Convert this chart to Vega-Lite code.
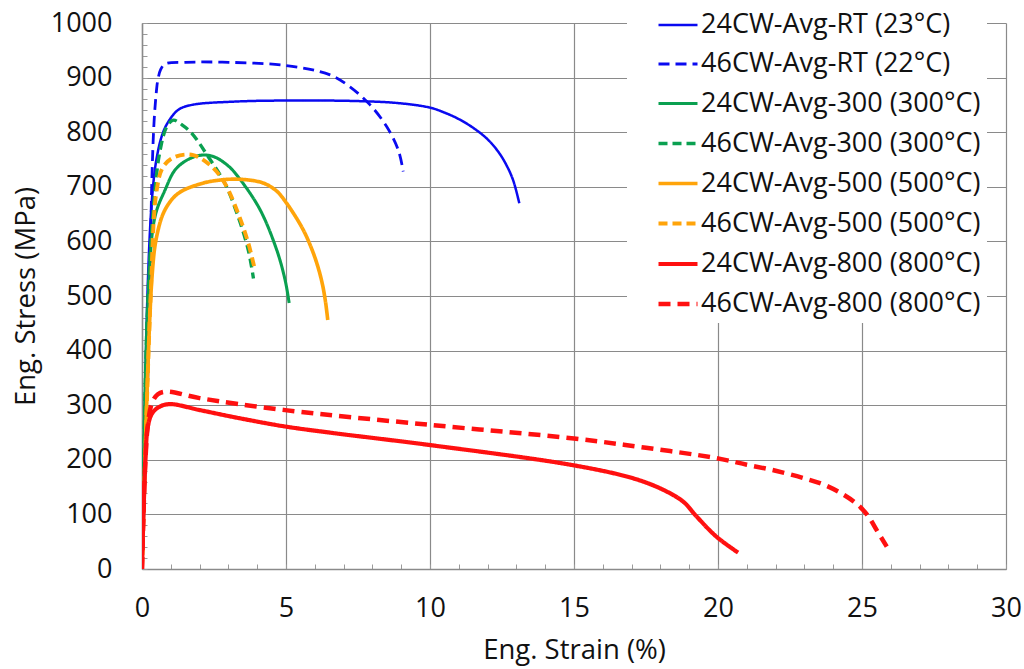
{
  "$schema": "https://vega.github.io/schema/vega-lite/v6.json",
  "autosize": "none",
  "width": 864,
  "height": 546,
  "padding": {"left": 142, "top": 23, "right": 18, "bottom": 100},
  "background": "white",
  "config": {"view": {"stroke": null}, "font": "Open Sans"},
  "data": {"values": [
    {"series": "24CW-Avg-RT (23°C)", "strain": 0, "stress": 0},
    {"series": "24CW-Avg-RT (23°C)", "strain": 0.2, "stress": 520},
    {"series": "24CW-Avg-RT (23°C)", "strain": 0.35, "stress": 680},
    {"series": "24CW-Avg-RT (23°C)", "strain": 0.5, "stress": 750},
    {"series": "24CW-Avg-RT (23°C)", "strain": 0.7, "stress": 795},
    {"series": "24CW-Avg-RT (23°C)", "strain": 0.9, "stress": 818},
    {"series": "24CW-Avg-RT (23°C)", "strain": 1.26, "stress": 841},
    {"series": "24CW-Avg-RT (23°C)", "strain": 1.73, "stress": 850},
    {"series": "24CW-Avg-RT (23°C)", "strain": 3.2, "stress": 856},
    {"series": "24CW-Avg-RT (23°C)", "strain": 5, "stress": 858},
    {"series": "24CW-Avg-RT (23°C)", "strain": 7.5, "stress": 857},
    {"series": "24CW-Avg-RT (23°C)", "strain": 8.96, "stress": 853},
    {"series": "24CW-Avg-RT (23°C)", "strain": 10, "stress": 845},
    {"series": "24CW-Avg-RT (23°C)", "strain": 10.5, "stress": 836},
    {"series": "24CW-Avg-RT (23°C)", "strain": 11, "stress": 824},
    {"series": "24CW-Avg-RT (23°C)", "strain": 11.5, "stress": 808},
    {"series": "24CW-Avg-RT (23°C)", "strain": 12, "stress": 787},
    {"series": "24CW-Avg-RT (23°C)", "strain": 12.4, "stress": 762},
    {"series": "24CW-Avg-RT (23°C)", "strain": 12.7, "stress": 735},
    {"series": "24CW-Avg-RT (23°C)", "strain": 12.9, "stress": 710},
    {"series": "24CW-Avg-RT (23°C)", "strain": 13.1, "stress": 670},
    {"series": "46CW-Avg-RT (22°C)", "strain": 0, "stress": 0},
    {"series": "46CW-Avg-RT (22°C)", "strain": 0.15, "stress": 250},
    {"series": "46CW-Avg-RT (22°C)", "strain": 0.28, "stress": 530},
    {"series": "46CW-Avg-RT (22°C)", "strain": 0.34, "stress": 707},
    {"series": "46CW-Avg-RT (22°C)", "strain": 0.42, "stress": 820},
    {"series": "46CW-Avg-RT (22°C)", "strain": 0.5, "stress": 875},
    {"series": "46CW-Avg-RT (22°C)", "strain": 0.55, "stress": 896},
    {"series": "46CW-Avg-RT (22°C)", "strain": 0.65, "stress": 915},
    {"series": "46CW-Avg-RT (22°C)", "strain": 0.8, "stress": 925},
    {"series": "46CW-Avg-RT (22°C)", "strain": 1.5, "stress": 928},
    {"series": "46CW-Avg-RT (22°C)", "strain": 3, "stress": 928},
    {"series": "46CW-Avg-RT (22°C)", "strain": 5, "stress": 922},
    {"series": "46CW-Avg-RT (22°C)", "strain": 6.53, "stress": 905},
    {"series": "46CW-Avg-RT (22°C)", "strain": 7.22, "stress": 883},
    {"series": "46CW-Avg-RT (22°C)", "strain": 7.92, "stress": 850},
    {"series": "46CW-Avg-RT (22°C)", "strain": 8.5, "stress": 810},
    {"series": "46CW-Avg-RT (22°C)", "strain": 8.9, "stress": 767},
    {"series": "46CW-Avg-RT (22°C)", "strain": 9.07, "stress": 728},
    {"series": "24CW-Avg-300 (300°C)", "strain": 0, "stress": 0},
    {"series": "24CW-Avg-300 (300°C)", "strain": 0.2, "stress": 480},
    {"series": "24CW-Avg-300 (300°C)", "strain": 0.45, "stress": 645},
    {"series": "24CW-Avg-300 (300°C)", "strain": 0.8, "stress": 694},
    {"series": "24CW-Avg-300 (300°C)", "strain": 1.15, "stress": 731},
    {"series": "24CW-Avg-300 (300°C)", "strain": 1.6, "stress": 750},
    {"series": "24CW-Avg-300 (300°C)", "strain": 2.07, "stress": 758},
    {"series": "24CW-Avg-300 (300°C)", "strain": 2.5, "stress": 755},
    {"series": "24CW-Avg-300 (300°C)", "strain": 3.0, "stress": 738},
    {"series": "24CW-Avg-300 (300°C)", "strain": 3.4, "stress": 714},
    {"series": "24CW-Avg-300 (300°C)", "strain": 4.1, "stress": 658},
    {"series": "24CW-Avg-300 (300°C)", "strain": 4.68, "stress": 584},
    {"series": "24CW-Avg-300 (300°C)", "strain": 4.97, "stress": 529},
    {"series": "24CW-Avg-300 (300°C)", "strain": 5.11, "stress": 487},
    {"series": "46CW-Avg-300 (300°C)", "strain": 0, "stress": 0},
    {"series": "46CW-Avg-300 (300°C)", "strain": 0.2, "stress": 490},
    {"series": "46CW-Avg-300 (300°C)", "strain": 0.45, "stress": 694},
    {"series": "46CW-Avg-300 (300°C)", "strain": 0.63, "stress": 767},
    {"series": "46CW-Avg-300 (300°C)", "strain": 0.86, "stress": 810},
    {"series": "46CW-Avg-300 (300°C)", "strain": 1.09, "stress": 822},
    {"series": "46CW-Avg-300 (300°C)", "strain": 1.4, "stress": 813},
    {"series": "46CW-Avg-300 (300°C)", "strain": 1.73, "stress": 798},
    {"series": "46CW-Avg-300 (300°C)", "strain": 2.3, "stress": 755},
    {"series": "46CW-Avg-300 (300°C)", "strain": 2.88, "stress": 706},
    {"series": "46CW-Avg-300 (300°C)", "strain": 3.34, "stress": 645},
    {"series": "46CW-Avg-300 (300°C)", "strain": 3.69, "stress": 584},
    {"series": "46CW-Avg-300 (300°C)", "strain": 3.87, "stress": 532},
    {"series": "24CW-Avg-500 (500°C)", "strain": 0, "stress": 0},
    {"series": "24CW-Avg-500 (500°C)", "strain": 0.34, "stress": 529},
    {"series": "24CW-Avg-500 (500°C)", "strain": 0.51, "stress": 609},
    {"series": "24CW-Avg-500 (500°C)", "strain": 0.8, "stress": 658},
    {"series": "24CW-Avg-500 (500°C)", "strain": 1.26, "stress": 688},
    {"series": "24CW-Avg-500 (500°C)", "strain": 2.07, "stress": 706},
    {"series": "24CW-Avg-500 (500°C)", "strain": 2.65, "stress": 712},
    {"series": "24CW-Avg-500 (500°C)", "strain": 3.23, "stress": 714},
    {"series": "24CW-Avg-500 (500°C)", "strain": 3.9, "stress": 711},
    {"series": "24CW-Avg-500 (500°C)", "strain": 4.3, "stress": 705},
    {"series": "24CW-Avg-500 (500°C)", "strain": 4.7, "stress": 691},
    {"series": "24CW-Avg-500 (500°C)", "strain": 5.02, "stress": 670},
    {"series": "24CW-Avg-500 (500°C)", "strain": 5.3, "stress": 648},
    {"series": "24CW-Avg-500 (500°C)", "strain": 5.6, "stress": 621},
    {"series": "24CW-Avg-500 (500°C)", "strain": 5.85, "stress": 592},
    {"series": "24CW-Avg-500 (500°C)", "strain": 6.07, "stress": 560},
    {"series": "24CW-Avg-500 (500°C)", "strain": 6.25, "stress": 525},
    {"series": "24CW-Avg-500 (500°C)", "strain": 6.37, "stress": 490},
    {"series": "24CW-Avg-500 (500°C)", "strain": 6.45, "stress": 456},
    {"series": "46CW-Avg-500 (500°C)", "strain": 0, "stress": 0},
    {"series": "46CW-Avg-500 (500°C)", "strain": 0.3, "stress": 500},
    {"series": "46CW-Avg-500 (500°C)", "strain": 0.51, "stress": 694},
    {"series": "46CW-Avg-500 (500°C)", "strain": 0.74, "stress": 737},
    {"series": "46CW-Avg-500 (500°C)", "strain": 1.15, "stress": 755},
    {"series": "46CW-Avg-500 (500°C)", "strain": 1.78, "stress": 758},
    {"series": "46CW-Avg-500 (500°C)", "strain": 2.42, "stress": 737},
    {"series": "46CW-Avg-500 (500°C)", "strain": 2.88, "stress": 706},
    {"series": "46CW-Avg-500 (500°C)", "strain": 3.34, "stress": 651},
    {"series": "46CW-Avg-500 (500°C)", "strain": 3.69, "stress": 597},
    {"series": "46CW-Avg-500 (500°C)", "strain": 3.92, "stress": 548},
    {"series": "24CW-Avg-800 (800°C)", "strain": 0, "stress": 0},
    {"series": "24CW-Avg-800 (800°C)", "strain": 0.05, "stress": 100},
    {"series": "24CW-Avg-800 (800°C)", "strain": 0.12, "stress": 200},
    {"series": "24CW-Avg-800 (800°C)", "strain": 0.2, "stress": 260},
    {"series": "24CW-Avg-800 (800°C)", "strain": 0.35, "stress": 285},
    {"series": "24CW-Avg-800 (800°C)", "strain": 0.6, "stress": 297},
    {"series": "24CW-Avg-800 (800°C)", "strain": 0.97, "stress": 302},
    {"series": "24CW-Avg-800 (800°C)", "strain": 2.01, "stress": 291},
    {"series": "24CW-Avg-800 (800°C)", "strain": 3.4, "stress": 276},
    {"series": "24CW-Avg-800 (800°C)", "strain": 4.97, "stress": 261},
    {"series": "24CW-Avg-800 (800°C)", "strain": 6.64, "stress": 249},
    {"series": "24CW-Avg-800 (800°C)", "strain": 10, "stress": 227},
    {"series": "24CW-Avg-800 (800°C)", "strain": 14.98, "stress": 190},
    {"series": "24CW-Avg-800 (800°C)", "strain": 17.06, "stress": 166},
    {"series": "24CW-Avg-800 (800°C)", "strain": 18.1, "stress": 145},
    {"series": "24CW-Avg-800 (800°C)", "strain": 18.8, "stress": 123},
    {"series": "24CW-Avg-800 (800°C)", "strain": 19.26, "stress": 96},
    {"series": "24CW-Avg-800 (800°C)", "strain": 19.95, "stress": 59},
    {"series": "24CW-Avg-800 (800°C)", "strain": 20.7, "stress": 30},
    {"series": "46CW-Avg-800 (800°C)", "strain": 0, "stress": 0},
    {"series": "46CW-Avg-800 (800°C)", "strain": 0.05, "stress": 100},
    {"series": "46CW-Avg-800 (800°C)", "strain": 0.12, "stress": 200},
    {"series": "46CW-Avg-800 (800°C)", "strain": 0.2, "stress": 262},
    {"series": "46CW-Avg-800 (800°C)", "strain": 0.34, "stress": 303},
    {"series": "46CW-Avg-800 (800°C)", "strain": 0.55, "stress": 320},
    {"series": "46CW-Avg-800 (800°C)", "strain": 0.86, "stress": 325},
    {"series": "46CW-Avg-800 (800°C)", "strain": 2, "stress": 313},
    {"series": "46CW-Avg-800 (800°C)", "strain": 4.97, "stress": 291},
    {"series": "46CW-Avg-800 (800°C)", "strain": 10, "stress": 264},
    {"series": "46CW-Avg-800 (800°C)", "strain": 15, "stress": 239},
    {"series": "46CW-Avg-800 (800°C)", "strain": 17.5, "stress": 222},
    {"series": "46CW-Avg-800 (800°C)", "strain": 19.95, "stress": 203},
    {"series": "46CW-Avg-800 (800°C)", "strain": 21, "stress": 191},
    {"series": "46CW-Avg-800 (800°C)", "strain": 22, "stress": 180},
    {"series": "46CW-Avg-800 (800°C)", "strain": 23, "stress": 166},
    {"series": "46CW-Avg-800 (800°C)", "strain": 23.7, "stress": 154},
    {"series": "46CW-Avg-800 (800°C)", "strain": 24.3, "stress": 138},
    {"series": "46CW-Avg-800 (800°C)", "strain": 24.8, "stress": 120},
    {"series": "46CW-Avg-800 (800°C)", "strain": 25.2, "stress": 98},
    {"series": "46CW-Avg-800 (800°C)", "strain": 25.5, "stress": 72},
    {"series": "46CW-Avg-800 (800°C)", "strain": 25.86, "stress": 41}
  ]},
  "mark": {"type": "line", "interpolate": "catmull-rom", "clip": true},
  "encoding": {
    "x": {
      "field": "strain", "type": "quantitative",
      "scale": {"domain": [0, 30], "nice": false, "zero": false},
      "axis": {
        "title": "Eng. Strain (%)",
        "values": [0,1,2,3,4,5,6,7,8,9,10,11,12,13,14,15,16,17,18,19,20,21,22,23,24,25,26,27,28,29,30],
        "labelExpr": "datum.value % 5 === 0 ? datum.label : ''",
        "labelOverlap": false,
        "labelFlush": false,
        "labelFont": "Open Sans", "labelFontSize": 27, "labelColor": "#111",
        "labelPadding": 31,
        "titleFont": "Open Sans", "titleFontSize": 27.5, "titleFontWeight": "normal", "titleColor": "#111",
        "titlePadding": 15,
        "domainColor": "#8a8a8a", "domainWidth": 1.5,
        "tickColor": "#9a9a9a", "tickSize": -5, "tickWidth": 1,
        "grid": true, "gridColor": "#8a8a8a", "gridWidth": 1.2,
        "gridOpacity": {"condition": {"test": "datum.value % 5 === 0", "value": 1}, "value": 0}
      }
    },
    "y": {
      "field": "stress", "type": "quantitative",
      "scale": {"domain": [0, 1000], "nice": false},
      "axis": {
        "title": "Eng. Stress (MPa)",
        "values": [0,20,40,60,80,100,120,140,160,180,200,220,240,260,280,300,320,340,360,380,400,420,440,460,480,500,520,540,560,580,600,620,640,660,680,700,720,740,760,780,800,820,840,860,880,900,920,940,960,980,1000],
        "labelExpr": "datum.value % 100 === 0 ? datum.label : ''",
        "format": "d",
        "labelOverlap": false,
        "labelFlush": false,
        "labelFont": "Open Sans", "labelFontSize": 27, "labelColor": "#111",
        "labelPadding": 35,
        "titleFont": "Open Sans", "titleFontSize": 27.5, "titleFontWeight": "normal", "titleColor": "#111",
        "titlePadding": 10,
        "domainColor": "#8a8a8a", "domainWidth": 1.5,
        "tickColor": "#9a9a9a", "tickSize": -5, "tickWidth": 1,
        "grid": true, "gridColor": "#8a8a8a", "gridWidth": 1.2,
        "gridOpacity": {"condition": {"test": "datum.value % 100 === 0", "value": 1}, "value": 0}
      }
    },
    "color": {
      "field": "series", "type": "nominal",
      "scale": {
        "domain": ["24CW-Avg-RT (23°C)", "46CW-Avg-RT (22°C)", "24CW-Avg-300 (300°C)", "46CW-Avg-300 (300°C)", "24CW-Avg-500 (500°C)", "46CW-Avg-500 (500°C)", "24CW-Avg-800 (800°C)", "46CW-Avg-800 (800°C)"],
        "range": ["#0a0af0", "#0a0af0", "#0aa050", "#0aa050", "#ffa40a", "#ffa40a", "#ff1010", "#ff1010"]
      },
      "legend": {
        "orient": "none", "legendX": 485, "legendY": -25,
        "title": null,
        "symbolType": "stroke", "symbolSize": 1521, "symbolStrokeWidth": 3,
        "symbolOffset": 23,
        "labelFont": "Open Sans", "labelFontSize": 27, "labelColor": "#111",
        "labelOffset": 1, "labelLimit": 400,
        "labelExpr": "datum.label + '\u00a0\u00a0'",
        "padding": 6, "rowPadding": 5,
        "fillColor": "white"
      }
    },
    "strokeDash": {
      "field": "series", "type": "nominal",
      "scale": {
        "domain": ["24CW-Avg-RT (23°C)", "46CW-Avg-RT (22°C)", "24CW-Avg-300 (300°C)", "46CW-Avg-300 (300°C)", "24CW-Avg-500 (500°C)", "46CW-Avg-500 (500°C)", "24CW-Avg-800 (800°C)", "46CW-Avg-800 (800°C)"],
        "range": [[1,0], [11,6], [1,0], [9,5], [1,0], [9,5], [1,0], [12,7]]
      },
      "legend": null
    },
    "strokeWidth": {
      "field": "series", "type": "nominal",
      "scale": {
        "domain": ["24CW-Avg-RT (23°C)", "46CW-Avg-RT (22°C)", "24CW-Avg-300 (300°C)", "46CW-Avg-300 (300°C)", "24CW-Avg-500 (500°C)", "46CW-Avg-500 (500°C)", "24CW-Avg-800 (800°C)", "46CW-Avg-800 (800°C)"],
        "range": [2.5, 4.5, 2.5, 4, 3, 4, 3, 4.5]
      },
      "legend": null
    }
  }
}
